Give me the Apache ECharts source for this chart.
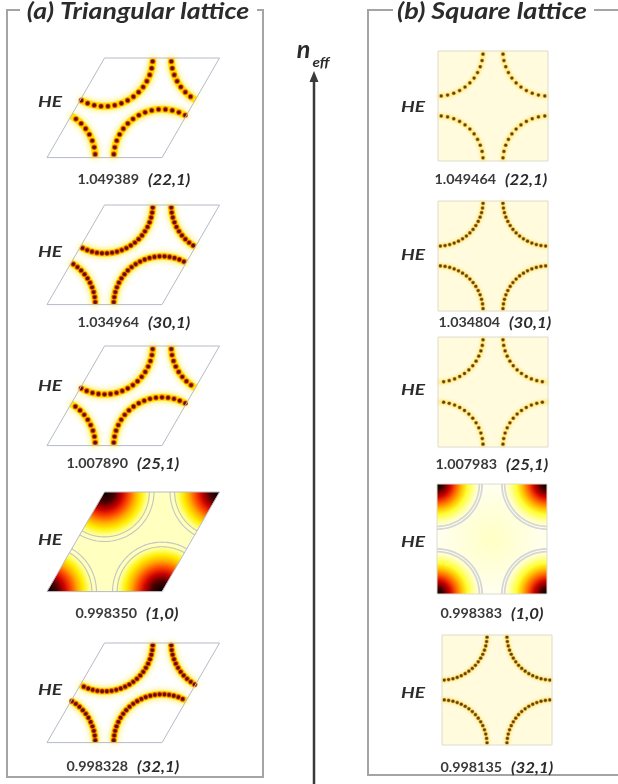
<!DOCTYPE html>
<html>
<head>
<meta charset="utf-8">
<script src="https://cdn.jsdelivr.net/npm/echarts@6/dist/echarts.min.js"></script>
<style>
  html, body { margin: 0; padding: 0; background: #fff; }
  #chart { width: 618px; height: 784px; }
</style>
</head>
<body>
<div id="chart"></div>
<script>
// Valores
const triNeff = ['1.049389', '1.034964', '1.007890', '0.998350', '0.998328'];
const sqNeff = ['1.049464', '1.034804', '1.007983', '0.998383', '0.998135'];
const modeLabel = ['(22,1)', '(30,1)', '(25,1)', '(1,0)', '(32,1)'];
const modeM = [22, 30, 25, 1, 32];   // orden azimutal
const modeN = [1, 1, 1, 0, 1];       // orden radial
const modeName = ['HE', 'HE', 'HE', 'HE', 'HE'];

// Celda unidad (lado = 1) y esquinas con tubos [x, y, ángulo inicial, ángulo final]
const triCell = [[0, 0], [1, 0], [1.5, 0.866], [0.5, 0.866]];
const sqCell = [[0, 0], [1, 0], [1, 1], [0, 1]];
const triCorners = [[0, 0, 0, 60], [1, 0, 60, 180], [1.5, 0.866, 180, 240], [0.5, 0.866, 240, 360]];
const sqCorners = [[0, 0, 0, 90], [1, 0, 90, 180], [1, 1, 180, 270], [0, 1, 270, 360]];

// Posiciones de los paneles (px)
const triTops = [58, 205, 346, 492, 643];
const sqTops = [51, 201, 337, 484, 635];
const sqLefts = [438, 438, 438, 437, 442];
const triLabelY = [180, 323, 464, 614, 767];
const sqLabelY = [180, 323, 465, 614, 768];
const triLabelX = [139, 139, 128, 137, 128];
const sqLabelX = [496, 500, 497, 502, 502];
const triHeY = [102, 252, 386, 540, 690];
const sqHeY = [107, 255, 390, 542, 693];

const FONT = 'Lato, "Open Sans", sans-serif';

const triStops = [
    { offset: 0, color: '#000000' }, { offset: 0.22, color: '#4a0000' },
    { offset: 0.38, color: '#cc0000' }, { offset: 0.52, color: '#ff4a00' },
    { offset: 0.65, color: '#ffaa00' }, { offset: 0.78, color: '#ffee00' },
    { offset: 0.9, color: '#ffff80' }, { offset: 1, color: '#ffffc0' }
];
const sqStops = [
    { offset: 0, color: '#000000' }, { offset: 0.14, color: '#400000' },
    { offset: 0.3, color: '#d00000' }, { offset: 0.44, color: '#ff6000' },
    { offset: 0.57, color: '#ffc000' }, { offset: 0.7, color: '#ffff30' },
    { offset: 0.84, color: '#ffffa0' }, { offset: 1, color: '#fffff2' }
];

function cellRender(lat, idx, outline) {
    const cell = lat === 'tri' ? triCell : sqCell;
    return function (params, api) {
        const pts = cell.map(p => api.coord(p));
        if (outline) {
            return {
                type: 'polygon', shape: { points: pts },
                style: { fill: 'none', stroke: lat === 'tri' ? '#b6bac6' : '#dcdccc', lineWidth: 1 }
            };
        }
        let fill = '#ffffff';
        if (lat === 'tri' && modeN[idx] === 0) fill = '#ffffc0';
        if (lat === 'sq') {
            const c = api.coord([0.5, 0.5]);
            fill = modeN[idx] === 0
                ? { type: 'radial', x: c[0], y: c[1], r: 60, global: true,
                    colorStops: [{ offset: 0, color: '#ffffc4' }, { offset: 1, color: '#fffff4' }] }
                : '#fffbdc';
        }
        return { type: 'polygon', shape: { points: pts }, style: { fill: fill } };
    };
}

function tubeRender(lat, idx) {
    const m = modeM[idx], n = modeN[idx];
    const r = lat === 'tri' ? 0.42 : 0.41;
    return function (params, api) {
        const cx = api.value(0), cy = api.value(1), a0 = api.value(2), a1 = api.value(3);
        const pt = (rr, deg) => api.coord([cx + rr * Math.cos(deg * Math.PI / 180), cy + rr * Math.sin(deg * Math.PI / 180)]);
        const arc = (rr) => {
            const pts = [];
            for (let d = a0; d < a1; d += 2) pts.push(pt(rr, d));
            pts.push(pt(rr, a1));
            return pts;
        };
        const children = [];
        if (n === 0) {
            const c = api.coord([cx, cy]);
            const rp = Math.abs(api.coord([cx + r, cy])[0] - c[0]);
            children.push({
                type: 'polygon', shape: { points: [c].concat(arc(r * 0.97)) },
                style: { fill: { type: 'radial', x: c[0], y: c[1], r: rp * 0.97, global: true,
                    colorStops: lat === 'tri' ? triStops : sqStops } }
            });
            const rings = lat === 'tri' ? [0.39, 0.43] : [0.385, 0.41];
            rings.forEach(rr => children.push({
                type: 'polyline', shape: { points: arc(rr) },
                style: { fill: 'none', stroke: lat === 'tri' ? '#c4c4c0' : '#d6d6d6', lineWidth: lat === 'tri' ? 1.1 : 1.8 }
            }));
        } else {
            const tri = lat === 'tri';
            children.push({
                type: 'polyline', shape: { points: arc(r) },
                style: { fill: 'none', stroke: tri ? '#ffe000' : '#fff0a0', lineWidth: tri ? 7 : 4.5,
                    shadowBlur: tri ? 6 : 3, shadowColor: tri ? 'rgba(255,232,40,0.95)' : 'rgba(255,230,120,0.8)' }
            });
            const step = 180 / m;
            for (let k = 0; k < 2 * m; k++) {
                const th = (k + 0.5) * step;
                if (th <= a0 || th >= a1) continue;
                const p = pt(r, th);
                children.push({ type: 'circle', shape: { cx: p[0], cy: p[1], r: tri ? 2.8 : 2.1 },
                    style: { fill: tri ? '#f06000' : '#e0a020' } });
                children.push({ type: 'circle', shape: { cx: p[0], cy: p[1], r: tri ? 1.9 : 1.4 },
                    style: { fill: tri ? '#641000' : '#5a4418' } });
            }
        }
        return { type: 'group', children: children };
    };
}

const grids = [], xAxes = [], yAxes = [], series = [];
for (let i = 0; i < 5; i++) {
    ['tri', 'sq'].forEach(lat => {
        const gi = grids.length;
        if (lat === 'tri') {
            grids.push({ left: 47, top: triTops[i], width: 172.5, height: 99.6 });
            xAxes.push({ gridIndex: gi, type: 'value', min: 0, max: 1.5, show: false });
            yAxes.push({ gridIndex: gi, type: 'value', min: 0, max: 0.866, show: false });
        } else {
            grids.push({ left: sqLefts[i], top: sqTops[i], width: 110, height: 110 });
            xAxes.push({ gridIndex: gi, type: 'value', min: 0, max: 1, show: false });
            yAxes.push({ gridIndex: gi, type: 'value', min: 0, max: 1, show: false });
        }
        const base = { type: 'custom', coordinateSystem: 'cartesian2d', xAxisIndex: gi, yAxisIndex: gi, silent: true, clip: false };
        series.push(Object.assign({}, base, { z: 1, data: [[0, 0]], renderItem: cellRender(lat, i, false) }));
        series.push(Object.assign({}, base, { z: 2, data: lat === 'tri' ? triCorners : sqCorners, renderItem: tubeRender(lat, i) }));
        series.push(Object.assign({}, base, { z: 3, data: [[0, 0]], renderItem: cellRender(lat, i, true) }));
    });
}

// Texto con estiramiento horizontal, como en la figura original
function txt(x, y, text, font, align, sx, fill) {
    return { type: 'text', x: x, y: y, scaleX: sx, style: { text: text, font: font + ' ' + FONT,
        fill: fill || '#2b2b2b', align: align, verticalAlign: 'middle' } };
}

// Textos y marcos
const graphics = [
    { type: 'polyline', shape: { points: [[20, 10], [7, 10], [7, 777], [263, 777], [263, 10], [257, 10]] },
      style: { fill: 'none', stroke: '#a4a4a4', lineWidth: 2 } },
    { type: 'polyline', shape: { points: [[393, 10], [368, 10], [368, 775], [618, 775]] },
      style: { fill: 'none', stroke: '#a4a4a4', lineWidth: 2 } },
    { type: 'line', shape: { x1: 594, y1: 10, x2: 618, y2: 10 }, style: { stroke: '#a4a4a4', lineWidth: 2 } },
    txt(138, 12, '(a) Triangular lattice', 'italic bold 23px', 'center', 1.16),
    txt(492, 12, '(b) Square lattice', 'italic bold 23px', 'center', 1.18),
    { type: 'line', shape: { x1: 314, y1: 784, x2: 314, y2: 80 }, style: { stroke: '#3a3a3a', lineWidth: 2.5 } },
    { type: 'polygon', shape: { points: [[314, 71], [309.5, 82], [318.5, 82]] }, style: { fill: '#3a3a3a' } },
    txt(303.5, 50, 'n', 'italic bold 24px', 'center', 1.05),
    txt(321, 62, 'eff', 'italic bold 14px', 'center', 1.1)
];
for (let i = 0; i < 5; i++) {
    graphics.push(
        txt(50, triHeY[i], modeName[i], 'italic bold 16px', 'center', 1.2),
        txt(413, sqHeY[i], modeName[i], 'italic bold 16px', 'center', 1.2),
        txt(triLabelX[i], triLabelY[i], triNeff[i], 'bold 13px', 'right', 1.1, '#3a3a3a'),
        txt(triLabelX[i] + 9, triLabelY[i], modeLabel[i], 'italic bold 16px', 'left', 1.05),
        txt(sqLabelX[i], sqLabelY[i], sqNeff[i], 'bold 13px', 'right', 1.1, '#3a3a3a'),
        txt(sqLabelX[i] + 9, sqLabelY[i], modeLabel[i], 'italic bold 16px', 'left', 1.05)
    );
}

const chart = echarts.init(document.getElementById('chart'));
chart.setOption({
    animation: false,
    backgroundColor: '#ffffff',
    grid: grids,
    xAxis: xAxes,
    yAxis: yAxes,
    series: series,
    graphic: graphics
});
</script>
</body>
</html>
